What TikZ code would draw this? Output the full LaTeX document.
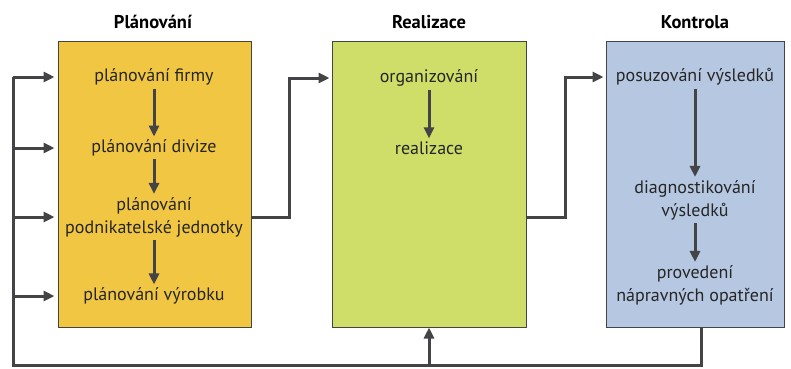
\documentclass[tikz,border=0pt]{standalone}
\usepackage{fontspec}
\setmainfont{PT Sans}
\definecolor{plyellow}{RGB}{241,198,66}
\definecolor{rlgreen}{RGB}{206,222,104}
\definecolor{ktblue}{RGB}{182,200,225}
\definecolor{lngray}{RGB}{68,68,70}
\usetikzlibrary{arrows.meta,positioning,calc}

\begin{document}
\begin{tikzpicture}[x=1pt, y=-1pt,
  phase/.style={draw=lngray, line width=1pt, minimum height=286pt, inner sep=0pt},
  title/.style={font=\fontsize{18.5}{22}\selectfont\bfseries},
  item/.style={font=\fontsize{18}{23}\selectfont, align=center, inner sep=3pt, text=black!85},
  link/.style={draw=lngray, line width=3pt},
  arr/.style={link, -{Triangle[length=11pt, width=10pt]}}]

\useasboundingbox (0,0) rectangle (791,368);

% Phases
\node[phase, fill=plyellow, minimum width=193pt] (plan) at (154.5,184) {};
\node[phase, fill=rlgreen, minimum width=194pt] (real) at (429,184) {};
\node[phase, fill=ktblue, minimum width=178pt] (kontr) at (695,184) {};

\node[title] (tplan) at (153,22) {Plánování};
\node[title] (treal) at (429,22) {Realizace};
\node[title] (tkontr) at (695,22) {Kontrola};

% Planning steps
\node[item] (firmy) at (154,77) {plánování firmy};
\node[item] (divize) at (154,148) {plánování divize};
\node[item] (podnik) at (154,217) {plánování\\podnikatelské jednotky};
\node[item] (vyrob) at (154,296) {plánování výrobku};

\draw[arr] (firmy.south) -- (divize.north);
\draw[arr] (divize.south) -- (podnik.north);
\draw[arr] (podnik.south) -- (vyrob.north);

% Realization steps
\node[item] (organ) at (429,78) {organizování};
\node[item] (realiz) at (429,148) {realizace};
\draw[arr] (organ.south) -- (realiz.north);

% Control steps
\node[item] (posuz) at (695,77) {posuzování výsledků};
\node[item] (diagn) at (695,200) {diagnostikování\\výsledků};
\node[item] (prove) at (695,285) {provedení\\nápravných opatření};
\draw[arr] (posuz.south) -- (diagn.north);
\draw[arr] (diagn.south) -- (prove.north);

% Links between phases
\draw[arr] (plan.east |- podnik) -- ++(38,0) |- ([xshift=-2pt]real.west |- organ);
\draw[arr] (real.east |- podnik) -- ++(39,0) |- ([xshift=-2pt]kontr.west |- posuz);

% Feedback loop
\coordinate (fbR) at (701,365);
\coordinate (fbL) at (13,365);
\draw[link] (kontr.south -| fbR) -- (fbR) -- (fbL) -- (fbL |- firmy);
\draw[arr] (real.south |- fbR) -- (real.south);
\foreach \s in {firmy, divize, podnik, vyrob}
  \draw[arr] (fbL |- \s) -- ([xshift=-3pt]plan.west |- \s);

\end{tikzpicture}
\end{document}
